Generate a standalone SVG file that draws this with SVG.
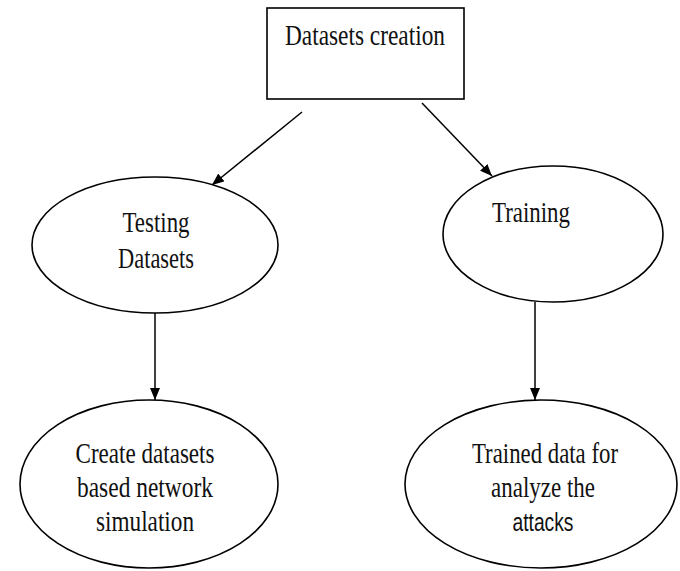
<svg xmlns="http://www.w3.org/2000/svg" width="680" height="571" viewBox="0 0 680 571">
<style>
.shape{fill:#fff;stroke:#000;stroke-width:1.6}
.lbl{font-family:"Liberation Serif","Times New Roman",serif;font-size:29px;fill:#111;text-anchor:middle}
.title{font-size:30px}
.sans{font-family:"Liberation Sans",Arial,sans-serif;font-size:25px;fill:#111;text-anchor:middle}
.conn{stroke:#000;stroke-width:1.5;fill:none;marker-end:url(#arr)}
</style>
<defs>
<marker id="arr" markerWidth="12" markerHeight="10" refX="12" refY="5" orient="auto" markerUnits="userSpaceOnUse">
<path d="M0,0 L12,5 L0,10 Z" fill="#000"/>
</marker>
</defs>
<rect width="680" height="571" fill="#fff"/>
<g id="connectors">
<line class="conn" x1="302" y1="112" x2="212" y2="185"/>
<line class="conn" x1="422" y1="103" x2="492" y2="176"/>
<line class="conn" x1="155" y1="313" x2="155" y2="400"/>
<line class="conn" x1="535" y1="302" x2="535" y2="400"/>
</g>
<g id="datasets-creation">
<rect class="shape" x="267" y="8" width="197" height="91"/>
<text class="lbl title" x="365" y="45" textLength="160" lengthAdjust="spacingAndGlyphs">Datasets creation</text>
</g>
<g id="testing-datasets">
<ellipse class="shape" cx="155" cy="245" rx="123" ry="68"/>
<text class="lbl" x="156" y="232" textLength="67" lengthAdjust="spacingAndGlyphs">Testing</text>
<text class="lbl" x="156" y="268" textLength="76" lengthAdjust="spacingAndGlyphs">Datasets</text>
</g>
<g id="training">
<ellipse class="shape" cx="553" cy="234" rx="110" ry="68"/>
<text class="lbl" x="531" y="222" textLength="78" lengthAdjust="spacingAndGlyphs">Training</text>
</g>
<g id="create-datasets">
<ellipse class="shape" cx="149" cy="484" rx="129" ry="84"/>
<text class="lbl" x="145" y="463" textLength="139" lengthAdjust="spacingAndGlyphs">Create datasets</text>
<text class="lbl" x="145" y="497" textLength="136" lengthAdjust="spacingAndGlyphs">based network</text>
<text class="lbl" x="145" y="531" textLength="98" lengthAdjust="spacingAndGlyphs">simulation</text>
</g>
<g id="trained-data">
<ellipse class="shape" cx="541" cy="484" rx="136" ry="84"/>
<text class="lbl" x="545" y="463" textLength="146" lengthAdjust="spacingAndGlyphs">Trained data for</text>
<text class="lbl" x="543" y="497" textLength="104" lengthAdjust="spacingAndGlyphs">analyze the</text>
<text class="sans" x="543" y="531" textLength="61" lengthAdjust="spacingAndGlyphs">attacks</text>
</g>
</svg>
